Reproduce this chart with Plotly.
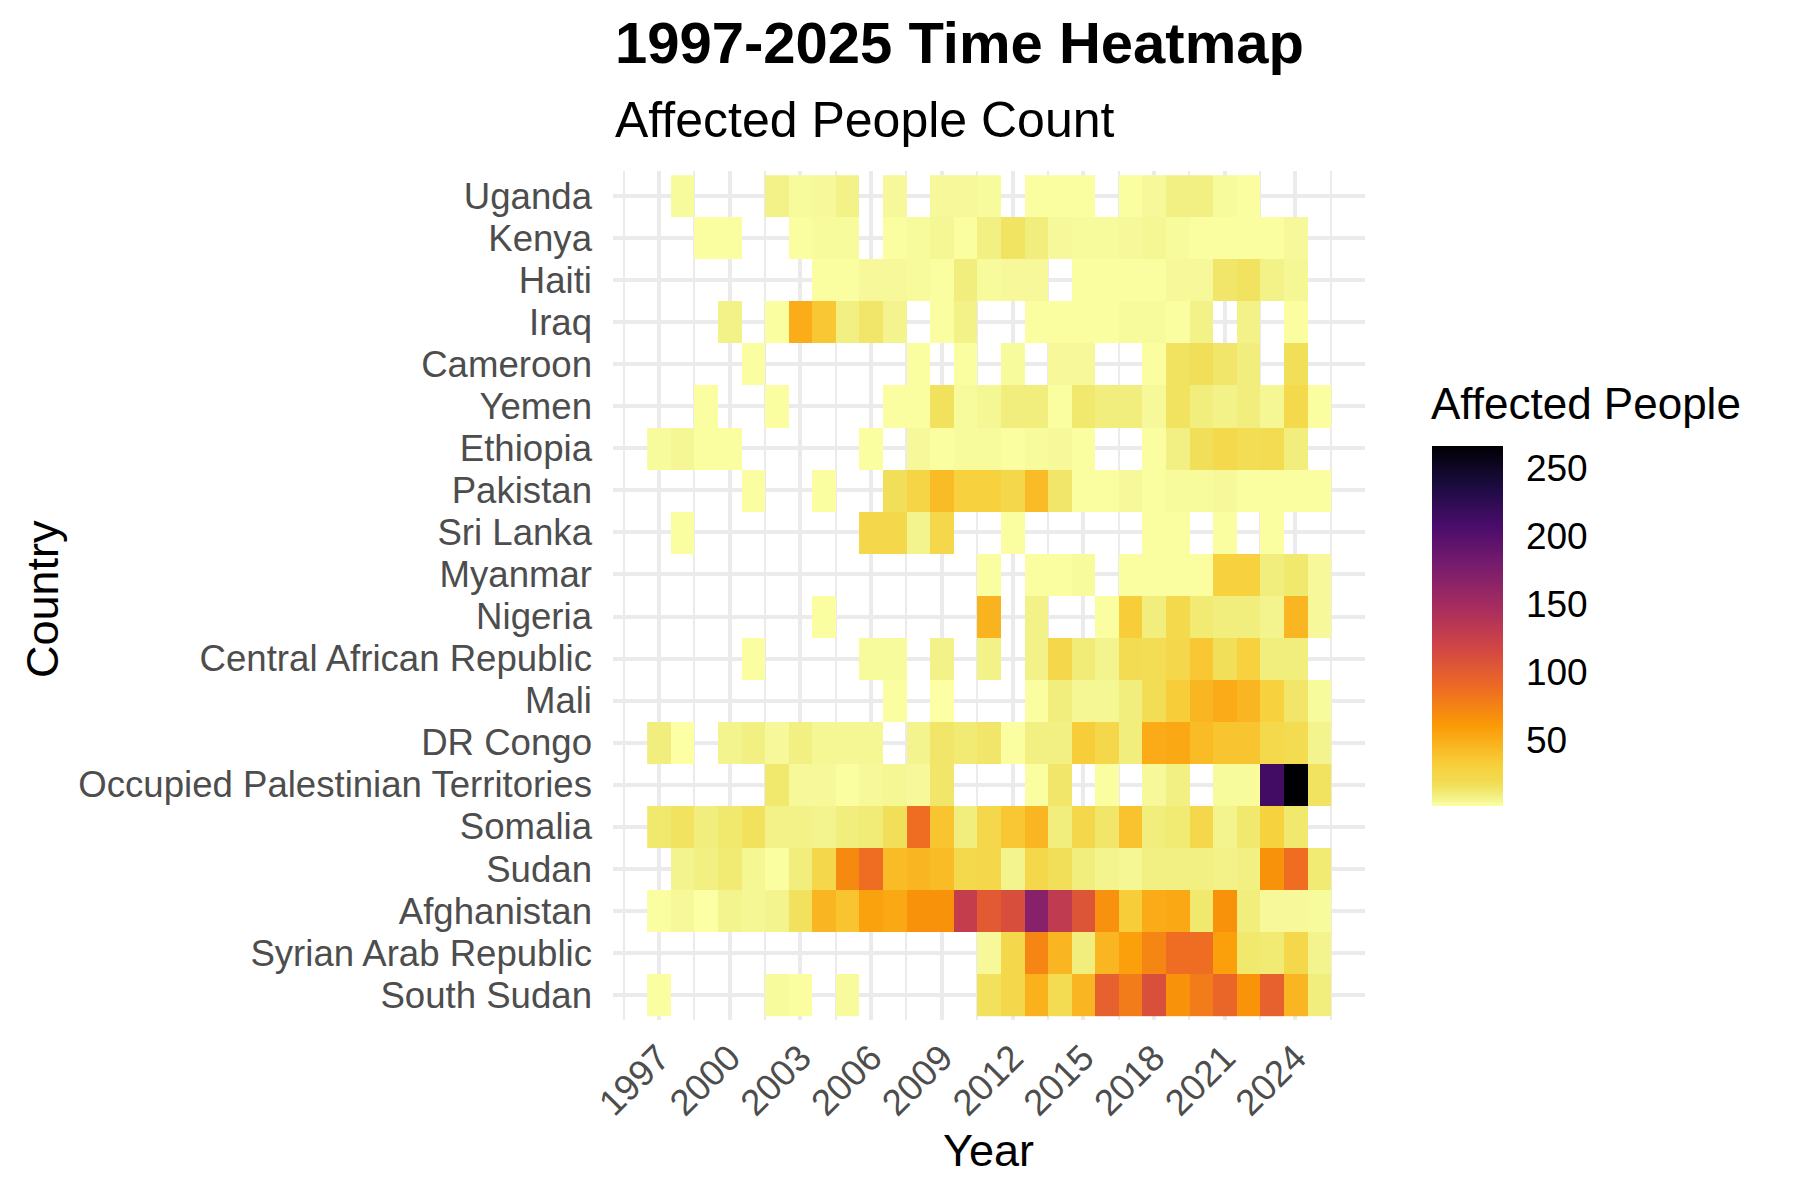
import plotly.graph_objects as go

years = list(range(1997, 2026))

countries = ["Uganda", "Kenya", "Haiti", "Iraq", "Cameroon", "Yemen", "Ethiopia",
             "Pakistan", "Sri Lanka", "Myanmar", "Nigeria", "Central African Republic",
             "Mali", "DR Congo", "Occupied Palestinian Territories", "Somalia", "Sudan",
             "Afghanistan", "Syrian Arab Republic", "South Sudan"]

N = None
# affected people per country, 1997..2025 (None = no record)
uganda = [N, 3, N, N, N, 7, 3, 4, 7, N, 4, N, 4, 4, 3, N, 2, 2, 2, N, 2, 4, 8, 8, 3, 2, N, N, N]
kenya = [N, N, 2, 2, N, N, 2, 3, 3, N, 2, 3, 5, 2, 8, 14, 9, 4, 3, 3, 4, 5, 3, 2, 2, 2, 2, 4, N]
haiti = [N, N, N, N, N, N, N, 2, 2, 4, 4, 3, 2, 9, 3, 4, 4, N, 2, 2, 2, 2, 4, 4, 13, 15, 7, 5, N]
iraq = [N, N, N, 7, N, 2, 50, 36, 8, 13, 6, N, 2, 7, N, N, 2, 2, 2, 2, 3, 3, 2, 7, N, 7, N, 2, N]
cameroon = [N, N, N, N, 2, N, N, N, N, N, N, 2, N, 2, N, 3, N, 4, 4, N, N, 2, 15, 17, 13, 9, N, 17, N]
yemen = [N, N, 2, N, N, 2, N, N, N, N, 2, 2, 16, 3, 5, 9, 9, 2, 12, 9, 9, 4, 15, 9, 7, 9, 5, 21, 2]
ethiopia = [3, 5, 2, 2, N, N, N, N, N, 2, N, 4, 2, 3, 3, 2, 3, 4, 2, N, N, 2, 8, 17, 21, 18, 19, 9, N]
pakistan = [N, N, N, N, 2, N, N, 2, N, N, 17, 26, 42, 30, 30, 23, 42, 13, 2, 2, 4, 2, 3, 3, 4, 2, 2, 2, 2]
sri_lanka = [N, 2, N, N, N, N, N, N, N, 23, 23, 6, 23, N, N, 2, N, N, N, N, N, 2, 2, N, 2, N, 2, N, N]
myanmar = [N, N, N, N, N, N, N, N, N, N, N, N, N, N, 2, N, 2, 2, 3, N, 2, 2, 2, 2, 30, 30, 9, 12, 4]
nigeria = [N, N, N, N, N, N, N, 2, N, N, N, N, N, N, 47, N, 7, N, N, 2, 32, 9, 21, 11, 9, 9, 6, 45, 4]
car = [N, N, N, N, 2, N, N, N, N, 3, 3, N, 7, N, 7, N, 7, 23, 10, 6, 19, 18, 23, 36, 17, 30, 9, 9, N]
mali = [N, N, N, N, N, N, N, N, N, N, 2, N, 1, N, N, N, 2, 9, 5, 5, 9, 18, 32, 45, 51, 45, 30, 13, 3]
dr_congo = [9, 1, N, 6, 8, 4, 8, 5, 5, 5, N, 6, 13, 11, 13, 2, 8, 8, 32, 23, 9, 51, 52, 42, 37, 37, 21, 19, 6]
opt = [N, N, N, N, N, 12, 4, 4, 2, 4, 5, 4, 13, N, N, N, 2, 13, N, 2, N, 4, 8, N, 3, 3, 212, 266, 15]
somalia = [12, 15, 9, 12, 16, 7, 7, 6, 9, 10, 17, 87, 37, 9, 23, 36, 45, 9, 23, 13, 38, 9, 11, 23, 6, 12, 29, 12, N]
sudan = [N, 6, 8, 11, 5, 2, 9, 23, 70, 87, 42, 45, 42, 21, 23, 6, 23, 17, 9, 6, 5, 8, 8, 8, 7, 8, 65, 87, 11]
afghanistan = [2, 4, 1, 6, 5, 6, 16, 45, 37, 56, 52, 65, 65, 127, 101, 111, 168, 130, 105, 66, 32, 51, 52, 12, 65, 9, 4, 4, 3]
syria = [N, N, N, N, N, N, N, N, N, N, N, N, N, N, 4, 23, 72, 45, 9, 45, 57, 72, 87, 87, 57, 12, 11, 23, 6]
south_sudan = [2, N, N, N, N, 3, 2, N, 3, N, N, N, N, N, 16, 23, 48, 19, 45, 96, 78, 110, 65, 78, 92, 64, 96, 45, 9]

z = [uganda, kenya, haiti, iraq, cameroon, yemen, ethiopia, pakistan, sri_lanka, myanmar,
     nigeria, car, mali, dr_congo, opt, somalia, sudan, afghanistan, syria, south_sudan]

# reversed inferno, with a few extra stops at the pale end
inferno_r = [
    [0.000, "#fcffa4"], [0.012, "#f6f898"], [0.030, "#f1ee7e"], [0.050, "#f1e462"],
    [0.070, "#f3da50"], [0.111, "#f7d13d"], [0.222, "#fb9b06"], [0.333, "#ed6925"],
    [0.444, "#cf4446"], [0.556, "#a52c60"], [0.667, "#781c6d"], [0.778, "#4a0c6b"],
    [0.889, "#1b0c41"], [1.000, "#000004"],
]

font = "Liberation Sans, Arial, sans-serif"

# panel box in pixels
L, R, T, B = 605, 1357, 163, 1012


def px_x(x):
    return (x - L) / (R - L)


def px_y(y):
    return (B - y) / (B - T)


fig = go.Figure(go.Heatmap(
    x=years, y=countries, z=z,
    colorscale=inferno_r,
    hoverongaps=False,
    colorbar=dict(
        xref="container", x=1424 / 1800, xanchor="left", xpad=0,
        yref="container", y=0.4839, yanchor="top", ypad=0,
        lenmode="pixels", len=360, thicknessmode="pixels", thickness=71,
        outlinewidth=0, tickvals=[50, 100, 150, 200, 250],
        ticks="outside", ticklen=16, tickcolor="white",
        tickfont=dict(size=37, color="black", family=font),
    ),
))

fig.update_layout(
    width=1800, height=1200,
    margin=dict(l=L, r=1800 - R, t=T, b=1200 - B),
    paper_bgcolor="white", plot_bgcolor="white",
    font=dict(family=font),
    xaxis=dict(
        range=[1995.05, 2026.95], tick0=1997, dtick=3, tickangle=-45,
        showgrid=True, gridcolor="#ebebeb", gridwidth=3.5, zeroline=False,
        minor=dict(tick0=1995.5, dtick=3, showgrid=True, gridcolor="#ebebeb", gridwidth=1.8),
        tickfont=dict(size=36.6, color="#4d4d4d"), ticks="", ticklabelstandoff=8,
    ),
    yaxis=dict(
        range=[19.6, -0.6], type="category", tickmode="array", tickvals=countries,
        showgrid=True, gridcolor="#ebebeb", gridwidth=3.5, zeroline=False,
        tickfont=dict(size=36.6, color="#4d4d4d"), ticks="", ticklabelstandoff=20,
    ),
    annotations=[
        dict(text="<b>1997-2025 Time Heatmap</b>", xref="paper", yref="paper",
             x=px_x(605), y=px_y(34), xanchor="left", yanchor="middle", showarrow=False,
             font=dict(size=58, color="black")),
        dict(text="Affected People Count", xref="paper", yref="paper",
             x=px_x(605), y=px_y(112), xanchor="left", yanchor="middle", showarrow=False,
             font=dict(size=50, color="black")),
        dict(text="Country", xref="paper", yref="paper", x=px_x(34), y=px_y(591),
             textangle=-90, xanchor="center", yanchor="middle", showarrow=False,
             font=dict(size=45, color="black")),
        dict(text="Year", xref="paper", yref="paper", x=px_x(980), y=px_y(1142),
             xanchor="center", yanchor="middle", showarrow=False,
             font=dict(size=45, color="black")),
        dict(text="Affected People", xref="paper", yref="paper", x=px_x(1421), y=px_y(395),
             xanchor="left", yanchor="middle", showarrow=False,
             font=dict(size=44, color="black")),
    ],
)

fig.write_html("out.html")
